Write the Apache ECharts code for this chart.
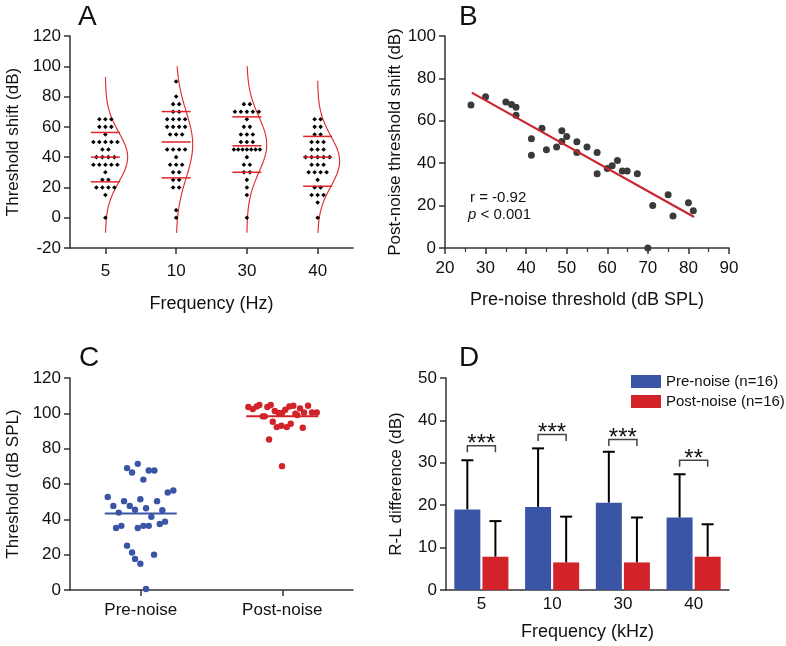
<!DOCTYPE html>
<html><head><meta charset="utf-8">
<script src="https://cdn.jsdelivr.net/npm/echarts@6/dist/echarts.min.js"></script>
<style>html,body{margin:0;padding:0;background:#fff}#c{width:786px;height:646px}</style>
</head><body><div id="c"></div>
<script>
// ---------- Panel A data ----------
const freqA = ['5', '10', '30', '40'];
const shift5Hz  = [65,65,65,60,60,60,55,50,50,50,50,50,45,45,40,40,40,40,35,35,35,35,35,30,25,25,20,20,20,20,15,0];
const shift10Hz = [90,80,75,75,70,70,65,65,65,65,60,60,60,60,55,55,55,45,45,45,45,40,35,35,35,30,30,25,25,20,20,5,0];
const shift30Hz = [75,75,70,70,70,70,70,65,60,60,55,55,55,50,50,50,45,45,45,45,45,45,45,40,35,35,30,30,25,20,15,0];
const shift40Hz = [65,65,60,60,55,55,50,50,50,45,45,45,40,40,40,40,40,35,35,35,30,30,30,30,25,20,20,15,15,15,10,0];
const meanLineA = [40, 50, 47.5, 40];
const sdHighA   = [56.3, 70.1, 66.6, 53.7];
const sdLowA    = [23.7, 26.3, 30.0, 20.8];
const fitMeanA  = [40, 48.2, 48.3, 37.3];
const fitSdA    = [16.3, 21.9, 18.3, 16.5];
const fitTopA   = [93, 100, 100, 90.5];
const fitBottomA = -10;

// ---------- Panel B data ----------
const preThrB = [26.4,30.0,35.0,36.4,37.5,37.5,41.3,41.3,43.9,45.0,47.5,48.8,48.8,50.0,52.5,52.5,55.0,57.5,57.5,60.0,61.2,62.5,63.7,64.9,67.4,70.0,71.2,75.0,76.2,80.0,81.2];
const shiftB  = [67.5,71.4,68.9,67.7,66.4,62.6,51.5,43.8,56.5,46.3,47.6,55.3,50.2,52.6,50.1,45.1,47.6,45.1,35.0,37.5,38.8,41.3,36.3,36.3,35.0,0,20.1,25.1,15.1,21.4,17.6];
const regX = [26.6, 81.4];
const regY = [73.3, 14.6];

// ---------- Panel C data ----------
const groupsC = ['Pre-noise', 'Post-noise'];
const preNoiseC  = [52.7,47.6,43.8,35.1,36.3,50.3,47.6,45.4,69,66.5,71.4,62.5,67.6,67.6,51.4,46.3,41.4,50.3,45.2,55.2,56.3,35.1,36.3,36.3,37.4,38.7,25.1,21.2,17.6,14.9,20.0,0.6];
const postNoiseC = [103.6,102.4,103.9,104.7,98.3,98.3,103.6,104.7,95.2,101.3,92.2,100.2,93,100.2,102,92.2,103.9,94.1,104.3,99.8,99.0,102.8,91.8,100.5,104.3,100.5,100.5,85.2,70.1];
const meanC = [43.3, 98.3];
// horizontal jitter of each point (pixels)
const preJitterC  = [-33,-27.4,-22,-24.7,-19.4,-16.7,-11,-5.7,-13.7,-8.7,-3,2.6,8,13.6,-0.4,5.3,10.6,16.3,21.6,27,32.6,-3,2.6,8,19,24.3,-13.7,-8.7,-5.7,-0.4,13.3,5.3];
const postJitterC = [-33.9,-29.5,-25.5,-22.9,-19.5,-17.5,-14.9,-11.5,-9.5,-7.5,-5.5,-3.5,-0.9,-0.2,3.1,4.5,7.1,8.5,11.1,13.1,15.1,17.8,20.5,21.8,25.8,29.8,34.5,-13.2,-0.2];

// ---------- Panel D data ----------
const freqD = ['5', '10', '30', '40'];
const preMeanD = [19.0, 19.6, 20.6, 17.1];
const postMeanD = [7.85, 6.5, 6.5, 7.85];
const preErrTopD = [30.6, 33.4, 32.6, 27.3];
const postErrTopD = [16.25, 17.3, 17.1, 15.5];
const sigD = ['***', '***', '***', '**'];
const bracketD = [34.0, 36.7, 35.5, 30.6];

// ---------- styling ----------
const FONT = 'Liberation Sans, Arial, sans-serif';
const AX = '#333';
const RED = '#e0262c';
const BLUE = '#3a55a5';
const CRED = '#d2232a';

function axisBase(extra) {
  return Object.assign({
    axisLine: { show: true, onZero: false, lineStyle: { color: AX, width: 1.5 } },
    axisTick: { show: true, length: 6, lineStyle: { color: AX, width: 1.5 } },
    axisLabel: { color: '#111', fontSize: 17, fontFamily: FONT },
    splitLine: { show: false },
    nameTextStyle: { color: '#111', fontSize: 17, fontFamily: FONT },
    nameLocation: 'middle'
  }, extra);
}

// beeswarm layout for panel A
const colsA = [shift5Hz, shift10Hz, shift30Hz, shift40Hz];
const dotsA = [];
colsA.forEach((vals, i) => {
  const counts = {};
  vals.forEach(v => { counts[v] = (counts[v] || 0) + 1; });
  Object.keys(counts).forEach(k => {
    const n = counts[k];
    const s = n > 5 ? 26 / (n - 1) : 6;
    for (let j = 0; j < n; j++) dotsA.push([i, Number(k), (j - (n - 1) / 2) * s]);
  });
});

const linesA = [];
freqA.forEach((f, i) => {
  linesA.push([i, meanLineA[i]]); linesA.push([i, sdHighA[i]]); linesA.push([i, sdLowA[i]]);
});
const curvesA = freqA.map((f, i) => [i, fitMeanA[i], fitSdA[i], fitTopA[i]]);

const dotsCpre = preNoiseC.map((v, i) => [0, v, preJitterC[i]]);
const dotsCpost = postNoiseC.map((v, i) => [1, v, postJitterC[i]]);

const chart = echarts.init(document.getElementById('c'), null, { renderer: 'canvas' });

const option = {
  animation: false,
  backgroundColor: '#fff',
  textStyle: { fontFamily: FONT },
  grid: [
    { left: 70, top: 36, width: 283, height: 212 },
    { left: 445, top: 36, width: 284, height: 212 },
    { left: 70, top: 378, width: 283, height: 212 },
    { left: 446, top: 378, width: 283, height: 212 }
  ],
  xAxis: [
    axisBase({ gridIndex: 0, type: 'category', data: freqA, boundaryGap: true,
      axisTick: { show: true, alignWithLabel: true, length: 6, lineStyle: { color: AX, width: 1.5 } },
      axisLabel: { color: '#111', fontSize: 17, fontFamily: FONT, margin: 15 },
      name: 'Frequency (Hz)', nameGap: 47, nameTextStyle: { color: '#111', fontSize: 18, fontFamily: FONT } }),
    axisBase({ gridIndex: 1, type: 'value', min: 20, max: 90, interval: 10,
      minorTick: { show: true, splitNumber: 2, length: 4, lineStyle: { color: AX, width: 1.2 } },
      axisLabel: { color: '#111', fontSize: 17, fontFamily: FONT, margin: 12 },
      name: 'Pre-noise threshold (dB SPL)', nameGap: 43, nameTextStyle: { color: '#111', fontSize: 18, fontFamily: FONT } }),
    axisBase({ gridIndex: 2, type: 'category', data: groupsC, boundaryGap: true,
      axisTick: { show: true, alignWithLabel: true, length: 6, lineStyle: { color: AX, width: 1.5 } },
      axisLabel: { color: '#111', fontSize: 17, fontFamily: FONT, margin: 12 } }),
    axisBase({ gridIndex: 3, type: 'category', data: freqD, boundaryGap: true,
      axisTick: { show: false },
      axisLabel: { color: '#111', fontSize: 17, fontFamily: FONT, margin: 6 },
      name: 'Frequency (kHz)', nameGap: 33, nameTextStyle: { color: '#111', fontSize: 18, fontFamily: FONT } })
  ],
  yAxis: [
    axisBase({ gridIndex: 0, type: 'value', min: -20, max: 120, interval: 20,
      axisLabel: { color: '#111', fontSize: 17, fontFamily: FONT, margin: 9 },
      name: 'Threshold shift (dB)', nameGap: 48 }),
    axisBase({ gridIndex: 1, type: 'value', min: 0, max: 100, interval: 20,
      axisLabel: { color: '#111', fontSize: 17, fontFamily: FONT, margin: 9 },
      name: 'Post-noise threshold shift (dB)', nameGap: 41 }),
    axisBase({ gridIndex: 2, type: 'value', min: 0, max: 120, interval: 20,
      axisLabel: { color: '#111', fontSize: 17, fontFamily: FONT, margin: 9 },
      name: 'Threshold (dB SPL)', nameGap: 48 }),
    axisBase({ gridIndex: 3, type: 'value', min: 0, max: 50, interval: 10,
      axisLabel: { color: '#111', fontSize: 17, fontFamily: FONT, margin: 9 },
      name: 'R-L difference (dB)', nameGap: 41 })
  ],
  legend: {
    left: 626, top: 369, orient: 'vertical', itemWidth: 30, itemHeight: 13, itemGap: 5,
    icon: 'rect', data: ['Pre-noise (n=16)', 'Post-noise (n=16)'],
    textStyle: { fontSize: 15, color: '#111', fontFamily: FONT }
  },
  graphic: [
    { type: 'text', left: 78, top: 3, style: { text: 'A', fontSize: 28, fill: '#111', fontFamily: FONT } },
    { type: 'text', left: 459, top: 3, style: { text: 'B', fontSize: 28, fill: '#111', fontFamily: FONT } },
    { type: 'text', left: 79, top: 344, style: { text: 'C', fontSize: 28, fill: '#111', fontFamily: FONT } },
    { type: 'text', left: 459, top: 344, style: { text: 'D', fontSize: 28, fill: '#111', fontFamily: FONT } },
    { type: 'text', left: 470, top: 190, style: { text: 'r = -0.92', fontSize: 15, fill: '#111', fontFamily: FONT } },
    { type: 'text', left: 468, top: 207, style: { text: '{i|p} < 0.001', fontSize: 15, fill: '#111', fontFamily: FONT,
        rich: { i: { fontStyle: 'italic', fontSize: 15, fill: '#111', fontFamily: FONT } } } }
  ],
  series: [
    // Panel A: dots
    { type: 'custom', xAxisIndex: 0, yAxisIndex: 0, data: dotsA, z: 3,
      renderItem: function (params, api) {
        const p = api.coord([api.value(0), api.value(1)]);
        const cx = p[0] + api.value(2), cy = p[1], r = 2.3;
        return { type: 'polygon', shape: { points: [[cx, cy - r], [cx + r, cy], [cx, cy + r], [cx - r, cy]] },
          style: { fill: '#000' } };
      } },
    // Panel A: mean / SD lines
    { type: 'custom', xAxisIndex: 0, yAxisIndex: 0, data: linesA, z: 4,
      renderItem: function (params, api) {
        const p = api.coord([api.value(0), api.value(1)]);
        return { type: 'line', shape: { x1: p[0] - 14.5, y1: p[1], x2: p[0] + 14.5, y2: p[1] },
          style: { stroke: RED, lineWidth: 1.5 } };
      } },
    // Panel A: fitted normal curves
    { type: 'custom', xAxisIndex: 0, yAxisIndex: 0, data: curvesA, z: 2,
      renderItem: function (params, api) {
        const i = api.value(0), m = api.value(1), sd = api.value(2), top = api.value(3);
        const K = 363;
        const pts = [];
        for (let y = fitBottomA; y <= top + 1e-9; y += 0.5) {
          const p = api.coord([i, y]);
          pts.push([p[0] + K / sd * Math.exp(-0.5 * Math.pow((y - m) / sd, 2)), p[1]]);
        }
        return { type: 'polyline', shape: { points: pts }, style: { stroke: RED, lineWidth: 1.1, fill: null } };
      } },
    // Panel B
    { type: 'scatter', xAxisIndex: 1, yAxisIndex: 1, symbolSize: 7,
      itemStyle: { color: '#3a3a3a', opacity: 1 }, data: preThrB.map((x, i) => [x, shiftB[i]]) },
    { type: 'line', xAxisIndex: 1, yAxisIndex: 1, symbol: 'none',
      lineStyle: { color: '#c8262c', width: 2.2 }, data: regX.map((x, i) => [x, regY[i]]) },
    // Panel C
    { type: 'custom', xAxisIndex: 2, yAxisIndex: 2, data: dotsCpre, z: 3,
      renderItem: function (params, api) {
        const p = api.coord([api.value(0), api.value(1)]);
        return { type: 'circle', shape: { cx: p[0] + api.value(2), cy: p[1], r: 3.2 }, style: { fill: BLUE } };
      } },
    { type: 'custom', xAxisIndex: 2, yAxisIndex: 2, data: dotsCpost, z: 3,
      renderItem: function (params, api) {
        const p = api.coord([api.value(0), api.value(1)]);
        return { type: 'circle', shape: { cx: p[0] + api.value(2), cy: p[1], r: 3.2 }, style: { fill: CRED } };
      } },
    { type: 'custom', xAxisIndex: 2, yAxisIndex: 2, data: meanC.map((v, i) => [i, v]), z: 4,
      renderItem: function (params, api) {
        const p = api.coord([api.value(0), api.value(1)]);
        return { type: 'line', shape: { x1: p[0] - 36, y1: p[1], x2: p[0] + 36, y2: p[1] },
          style: { stroke: params.dataIndex === 0 ? BLUE : CRED, lineWidth: 2 } };
      } },
    // Panel D bars
    { name: 'Pre-noise (n=16)', type: 'bar', xAxisIndex: 3, yAxisIndex: 3, barWidth: 26, barGap: '8%',
      itemStyle: { color: BLUE }, data: preMeanD, z: 2 },
    { name: 'Post-noise (n=16)', type: 'bar', xAxisIndex: 3, yAxisIndex: 3, barWidth: 26, barGap: '8%',
      itemStyle: { color: CRED }, data: postMeanD, z: 2 },
    // Panel D error bars
    { type: 'custom', xAxisIndex: 3, yAxisIndex: 3, z: 1,
      data: freqD.map((f, i) => [i, preMeanD[i], preErrTopD[i], postMeanD[i], postErrTopD[i]]),
      renderItem: function (params, api) {
        const i = api.value(0);
        const children = [];
        [[api.value(1), api.value(2), -14.04], [api.value(3), api.value(4), 14.04]].forEach(e => {
          const b = api.coord([i, e[0]]), t = api.coord([i, e[1]]);
          const x = b[0] + e[2];
          children.push({ type: 'line', shape: { x1: x, y1: b[1], x2: x, y2: t[1] }, style: { stroke: '#000', lineWidth: 2 } });
          children.push({ type: 'line', shape: { x1: x - 6, y1: t[1], x2: x + 6, y2: t[1] }, style: { stroke: '#000', lineWidth: 2 } });
        });
        return { type: 'group', children: children };
      } },
    // Panel D significance brackets
    { type: 'custom', xAxisIndex: 3, yAxisIndex: 3, z: 5,
      data: freqD.map((f, i) => [i, bracketD[i]]),
      renderItem: function (params, api) {
        const i = api.value(0);
        const p = api.coord([i, api.value(1)]);
        const x1 = p[0] - 14.04, x2 = p[0] + 14.04, y = p[1];
        return { type: 'group', children: [
          { type: 'polyline', shape: { points: [[x1, y + 6.5], [x1, y], [x2, y], [x2, y + 6.5]] },
            style: { stroke: '#444', lineWidth: 1.5, fill: null } },
          { type: 'text', style: { text: sigD[params.dataIndex], x: p[0], y: y - 1, align: 'center', verticalAlign: 'middle',
              fontSize: 24, fill: '#111', fontFamily: FONT } }
        ] };
      } }
  ]
};
chart.setOption(option);
</script></body></html>
